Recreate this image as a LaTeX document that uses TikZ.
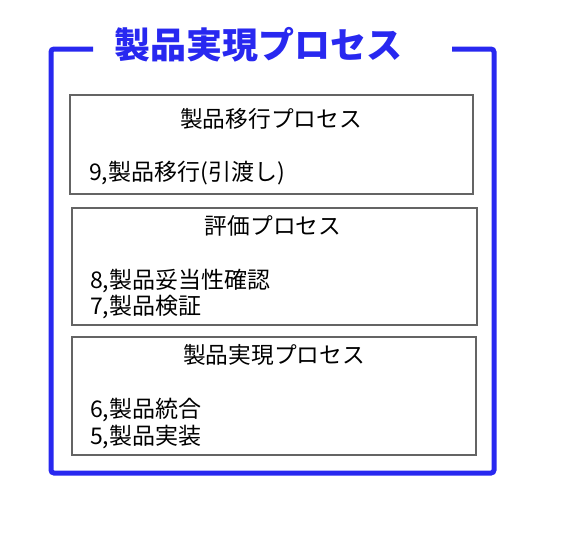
\documentclass[tikz,border=0pt]{standalone}
\usepackage{fontspec}
\setmainfont{Noto Sans CJK JP}
\usepackage{tikz}
\usetikzlibrary{positioning}
\definecolor{frameblue}{RGB}{40,40,240}
\definecolor{boxgray}{RGB}{100,100,100}

\tikzset{
	procbox/.style={draw=boxgray,line width=1.5pt,rectangle,inner sep=0pt},
	boxtitle/.style={font=\fontsize{22.7}{26}\selectfont,inner sep=0pt},
	stepitem/.style={font=\fontsize{23}{26}\selectfont,anchor=west,inner sep=0pt}
}

\begin{document}
\begin{tikzpicture}[x=1pt,y=-1pt]
	\useasboundingbox (0,0) rectangle (573,533);

	% draw outer frame
	\coordinate (frameL) at (93,49);
	\coordinate (frameR) at (452,49);
	\draw[frameblue,line width=5pt,rounded corners=3pt] (frameL) -- (51,49) -- (51,473) -- (494,473) -- (494,49) -- (frameR);
	\node (maintitle) at (258,45) [text=frameblue,font=\fontsize{36}{42}\selectfont\bfseries] {製品実現プロセス};

	% draw process boxes
	\node (movebox) at (271.5,144.5) [procbox,minimum width=403pt,minimum height=99pt] {};
	\node (evalbox) at (274.5,266.5) [procbox,minimum width=405pt,minimum height=117pt] {};
	\node (realbox) at (274,396) [procbox,minimum width=404pt,minimum height=118pt] {};

	% box titles
	\node (movetitle) at (271,119) [boxtitle] {製品移行プロセス};
	\node (evaltitle) at (273,226) [boxtitle] {評価プロセス};
	\node (realtitle) at (274,355) [boxtitle] {製品実現プロセス};

	% steps in each box
	\node (step9) at (89,173) [stepitem] {9,製品移行(引渡し)};
	\node (step8) at (90,281) [stepitem] {8,製品妥当性確認};
	\node (step7) at (90,307) [stepitem] {7,製品検証};
	\node (step6) at (90,410) [stepitem] {6,製品統合};
	\node (step5) at (90,437) [stepitem] {5,製品実装};
\end{tikzpicture}
\end{document}
